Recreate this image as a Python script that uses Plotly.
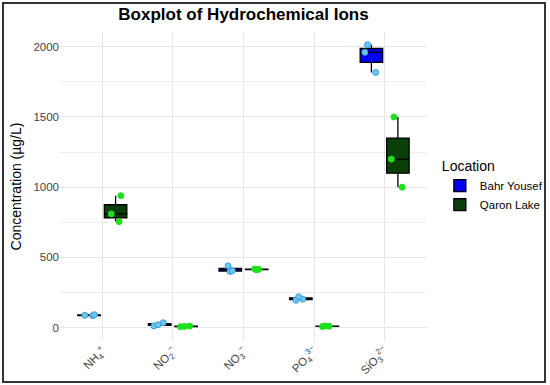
import plotly.graph_objects as go

# ---- data ----
ions = ["NH4", "NO2", "NO3", "PO4", "SiO3"]
ion_labels = ["NH<sub>4</sub><sup>+</sup>", "NO<sub>2</sub><sup>−</sup>", "NO<sub>3</sub><sup>−</sup>",
              "PO<sub>4</sub><sup>3−</sup>", "SiO<sub>3</sub><sup>2−</sup>"]
bahr_NH4 = [85, 88, 92]
bahr_NO2 = [35, 21, 12]
bahr_NO3 = [440, 405, 400]
bahr_PO4 = [220, 203, 195]
bahr_SiO3 = [2015, 1960, 1817]
qaron_NH4 = [940, 810, 755]
qaron_NO2 = [7, 9, 11]
qaron_NO3 = [412, 415, 418]
qaron_PO4 = [8, 10, 12]
qaron_SiO3 = [1500, 1200, 1000]

bahr = [bahr_NH4, bahr_NO2, bahr_NO3, bahr_PO4, bahr_SiO3]
qaron = [qaron_NH4, qaron_NO2, qaron_NO3, qaron_PO4, qaron_SiO3]


def flatten(groups):
    xs, ys = [], []
    for lab, vals in zip(ion_labels, groups):
        for v in vals:
            xs.append(lab)
            ys.append(v)
    return xs, ys


fig = go.Figure()
for name, groups, fill, pt, ptline in [
    ("Bahr Yousef", bahr, "#0000F0", "#6CC6EE", "#3AA0D8"),
    ("Qaron Lake", qaron, "#0A3F0A", "#1FE01F", "#1FE01F"),
]:
    xs, ys = flatten(groups)
    fig.add_trace(go.Box(
        x=xs, y=ys, name=name,
        fillcolor=fill,
        line=dict(color="black", width=1.3),
        marker=dict(color=pt, size=6, line=dict(color=ptline, width=1)),
        boxpoints="all", jitter=0.6, pointpos=0,
        whiskerwidth=0, quartilemethod="inclusive",
    ))

fig.update_layout(
    template="none",
    width=550, height=385,
    margin=dict(l=60, r=123, t=32, b=44, autoexpand=False),
    paper_bgcolor="white", plot_bgcolor="white",
    boxmode="group", boxgap=0.25, boxgroupgap=0.15,
    font=dict(family="Liberation Sans, Arial, sans-serif", color="#444444"),
    title=dict(text="<b>Boxplot of Hydrochemical Ions</b>", x=0.5, xref="paper",
               xanchor="center", y=0.964, yanchor="middle",
               font=dict(size=17, color="black")),
    legend=dict(title=dict(text="Location", font=dict(size=14, color="black")),
                x=1.035, xanchor="left", y=0.5, yanchor="middle", itemwidth=30,
                font=dict(size=11.5, color="black"), tracegroupgap=2,
                bgcolor="rgba(0,0,0,0)"),
    showlegend=True,
)
fig.update_xaxes(
    categoryorder="array", categoryarray=ion_labels, automargin=False,
    range=[-0.6, 4.6], showgrid=True, gridcolor="#E6E6E6", gridwidth=1,
    tickangle=-45, tickfont=dict(size=11.5, color="#444444"), ticks="",
    zeroline=False, showline=False,
)
fig.update_yaxes(
    range=[-95, 2105], tickvals=[0, 500, 1000, 1500, 2000], automargin=False,
    showgrid=True, gridcolor="#E6E6E6", gridwidth=1,
    minor=dict(tickvals=[250, 750, 1250, 1750], showgrid=True, gridcolor="#EFEFEF", gridwidth=1),
    tickfont=dict(size=11.5, color="#444444"), ticks="", zeroline=False, showline=False,
    title=dict(text="Concentration (µg/L)", font=dict(size=14, color="black"), standoff=8),
)
# figure border
fig.add_shape(type="rect", xref="paper", yref="paper",
              x0=(3 - 60) / 367, x1=(545 - 60) / 367,
              y0=(341 - 382) / 309, y1=(341 - 3) / 309,
              line=dict(color="#333333", width=2), fillcolor="rgba(0,0,0,0)", layer="above")

fig.write_html("out.html", config={"displayModeBar": False},
               post_script="document.body.style.margin='0';")
